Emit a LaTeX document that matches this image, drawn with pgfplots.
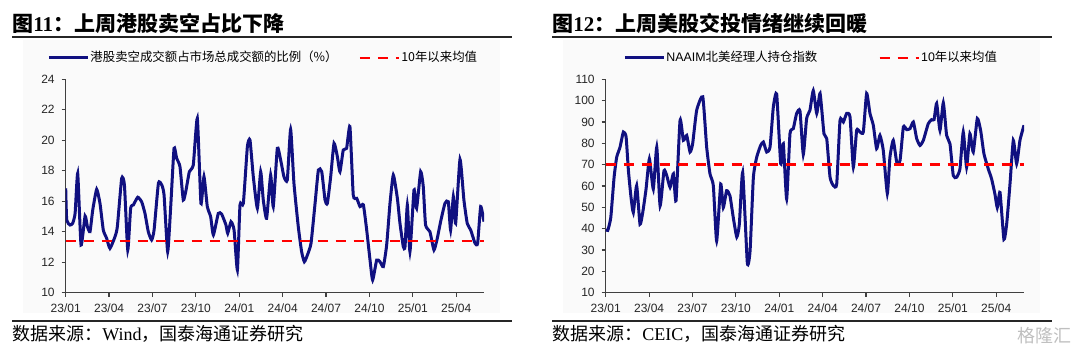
\documentclass[border=0pt]{standalone}
\usepackage{fontspec}
\setmainfont{Liberation Serif}
\newfontfamily\cjk{Noto Sans CJK SC}
\newfontfamily\arial{Liberation Sans}
\usepackage{pgfplots}
\usepackage{pgfplotstable}
\pgfplotsset{compat=1.18}
\definecolor{navy}{RGB}{16,16,128}

\pgfplotstableread{
m v
0 16.85
0.07 14.77
0.30 14.44
0.48 14.55
0.65 15.2
0.83 17.83
1.06 13.13
1.34 15.03
1.50 14.33
1.68 14.0
1.87 15.43
2.14 16.78
2.37 15.86
2.60 14.11
2.83 13.57
3.06 12.91
3.41 13.68
3.57 14.33
3.87 17.5
4.06 17.07
4.29 12.8
4.49 15.54
4.68 15.76
4.98 16.26
5.25 15.97
5.48 15.2
5.71 14.0
5.94 13.46
6.11 14.11
6.41 17.18
6.64 17.07
6.80 16.41
7.05 12.69
7.26 15.65
7.49 19.47
7.67 18.82
7.90 18.27
8.13 16.08
8.32 16.74
8.55 17.94
8.82 18.38
9.10 21.44
9.35 15.86
9.56 17.61
9.79 15.65
10.02 14.99
10.21 13.79
10.55 15.2
10.78 15.16
11.08 14.44
11.20 13.9
11.43 14.66
11.64 14.11
11.87 11.49
12.05 15.76
12.28 15.86
12.56 19.58
12.74 20.02
12.97 17.61
13.25 15.54
13.48 17.94
13.66 16.08
13.89 14.88
14.17 17.72
14.35 15.65
14.63 19.47
14.86 18.71
15.09 17.61
15.32 17.4
15.55 20.72
15.78 17.18
16.08 14.33
16.31 12.69
16.50 12.03
16.71 12.47
16.96 13.24
17.24 15.86
17.47 18.05
17.70 17.94
17.93 16.08
18.09 15.86
18.32 17.61
18.55 19.8
18.78 18.93
18.96 17.94
19.19 19.36
19.42 19.47
19.65 20.9
19.88 16.41
20.12 16.19
20.35 15.65
20.58 15.76
20.81 14.11
21.04 12.14
21.22 10.83
21.50 12.14
21.73 12.03
21.96 11.71
22.19 13.13
22.42 15.86
22.65 17.72
22.93 16.19
23.11 14.55
23.34 13.02
23.46 13.02
23.62 15.76
23.80 12.69
24.08 16.74
24.26 15.54
24.54 17.94
24.72 16.96
24.88 14.44
25.18 14.0
25.46 12.8
25.69 13.57
25.92 14.66
26.22 15.86
26.45 15.97
26.61 14.11
26.80 16.3
26.96 14.55
27.26 18.75
27.53 16.08
27.76 14.55
28.00 14.11
28.30 13.24
28.48 13.24
28.69 15.65
28.92 14.66
}\hkshort

\pgfplotstableread{
m v
0 39.7
0.14 39.2
0.35 45.2
0.58 64.1
0.76 73.5
0.99 78.2
1.22 85.3
1.41 83.0
1.57 67.2
1.75 54.7
1.91 47.6
2.14 60.2
2.37 42.1
2.56 47.6
2.79 58.6
3.02 72.7
3.29 58.6
3.53 78.2
3.76 50.7
4.03 67.2
4.22 64.9
4.45 59.4
4.68 65.7
4.86 53.1
5.14 90.8
5.37 81.4
5.60 83.7
5.83 75.9
6.01 79.8
6.29 95.5
6.71 101.8
6.98 78.2
7.21 65.7
7.44 60.2
7.67 34.2
7.95 60.9
8.13 49.9
8.36 57.8
8.59 55.4
8.82 45.2
9.06 36.1
9.24 42.1
9.47 66.4
9.79 24.0
9.98 29.5
10.21 64.1
10.44 73.5
10.71 79.0
10.90 80.6
11.13 75.9
11.36 78.2
11.59 97.1
11.82 103.1
12.10 70.4
12.28 79.8
12.51 53.9
12.74 84.5
12.97 86.9
13.20 94.0
13.43 95.2
13.66 74.8
13.89 91.6
14.12 95.5
14.35 104.7
14.59 94.0
14.82 103.4
15.09 84.5
15.28 82.2
15.51 64.1
15.74 60.2
15.97 60.9
16.20 90.8
16.43 90.0
16.66 94.0
16.89 92.4
17.12 68.8
17.35 86.1
17.58 85.3
17.81 85.3
18.04 103.4
18.27 94.0
18.50 88.5
18.73 77.5
18.96 83.7
19.19 76.7
19.47 56.5
19.65 73.5
19.88 81.4
20.12 71.2
20.35 72.0
20.58 87.7
20.81 86.4
21.04 86.9
21.27 90.0
21.50 82.2
21.73 79.0
21.96 81.4
22.30 89.2
22.53 91.1
22.70 91.1
22.88 98.7
23.11 86.1
23.34 99.0
23.57 83.7
23.80 79.8
24.03 64.9
24.26 64.1
24.49 68.0
24.72 85.3
24.95 68.8
25.18 84.5
25.41 75.9
25.69 91.6
25.92 86.1
26.15 75.1
26.45 68.0
26.68 63.3
26.91 56.2
27.07 49.9
27.26 57.0
27.53 35.0
27.72 42.1
27.95 60.9
28.18 81.4
28.41 70.4
28.64 81.4
28.92 88.5
}\naaim

\pgfplotsset{panel/.style={
  scale only axis, width=209.15pt, height=106.7pt,
  xmin=0, xmax=28.92,
  axis x line=bottom, axis y line=left,
  axis line style={-, black!75, line width=0.6pt},
  tick align=outside, major tick length=2pt,
  tick style={black!75, line width=0.6pt},
  xtick={0,3,...,27},
  xticklabels={23/01,23/04,23/07,23/10,24/01,24/04,24/07,24/10,25/01,25/04},
  tick label style={font=\arial\fontsize{6}{7}\selectfont, text=black!85},
  /pgf/number format/assume math mode=true,
  legend columns=2,
  legend cell align=left,
  legend style={draw=none, fill=none, inner sep=0pt, anchor=west,
    font=\cjk\fontsize{6.2}{7}\selectfont,
    nodes={inner sep=0.6pt}},
  legend image code/.code={\draw[##1] (0pt,0pt) -- (19.5pt,0pt);},
}}

\begin{document}
\begin{tikzpicture}[x=0.5pt,y=0.5pt]
\path[use as bounding box] (0,0) rectangle (1080,351);
\fill[gray!4] (23,38) rectangle (500,311);
\fill[gray!4] (563,38) rectangle (1040,311);
\draw[black!85, line width=0.8pt] (12,314) -- (512,314);
\draw[black!85, line width=0.8pt] (552,314) -- (1052,314);
\draw[black!85, line width=0.8pt] (12,30) -- (512,30);
\draw[black!85, line width=0.8pt] (552,30) -- (1052,30);
\node[anchor=west, inner sep=0pt] at (12,328) {\fontsize{10.5}{12}\selectfont{\cjk\bfseries 图}\textbf{11}{\cjk\bfseries ：上周港股卖空占比下降}};
\node[anchor=west, inner sep=0pt] at (552,328) {\fontsize{10.5}{12}\selectfont{\cjk\bfseries 图}\textbf{12}{\cjk\bfseries ：上周美股交投情绪继续回暖}};
\node[anchor=west, inner sep=0pt] at (12,17) {\fontsize{9}{10}\selectfont{\cjk 数据来源：}Wind{\cjk ，国泰海通证券研究}};
\node[anchor=west, inner sep=0pt] at (552,17) {\fontsize{9}{10}\selectfont{\cjk 数据来源：}CEIC{\cjk ，国泰海通证券研究}};
\node[anchor=east, inner sep=0pt, text=gray!50] at (1072,15) {\fontsize{9}{10}\selectfont\cjk 格隆汇};

\begin{axis}[panel, at={(32.85pt,29.15pt)}, anchor=south west,
  ymin=10, ymax=24, ytick={10,12,...,24},
  legend style={at={(-0.045,1.10)}, /tikz/every even column/.append style={column sep=10pt}}]
\addplot[navy, line width=1.5pt, smooth, tension=0.3] table[x=m,y=v] {\hkshort};
\addlegendentry{港股卖空成交额占市场总成交额的比例（\%）}
\addplot[red, line width=1.2pt, dash pattern=on 5pt off 4pt] coordinates {(0,13.4) (28.92,13.4)};
\addlegendentry{10年以来均值}
\end{axis}

\begin{axis}[panel, at={(302.85pt,29.15pt)}, anchor=south west,
  ymin=10, ymax=110, ytick={10,20,...,110},
  legend style={at={(0.041,1.10)}, /tikz/every even column/.append style={column sep=30pt}}]
\addplot[navy, line width=1.5pt, smooth, tension=0.3] table[x=m,y=v] {\naaim};
\addlegendentry{{\arial NAAIM}北美经理人持仓指数}
\addplot[red, line width=1.2pt, dash pattern=on 5pt off 4pt] coordinates {(0,70) (28.92,70)};
\addlegendentry{{\arial 10}年以来均值}
\end{axis}
\end{tikzpicture}
\end{document}
